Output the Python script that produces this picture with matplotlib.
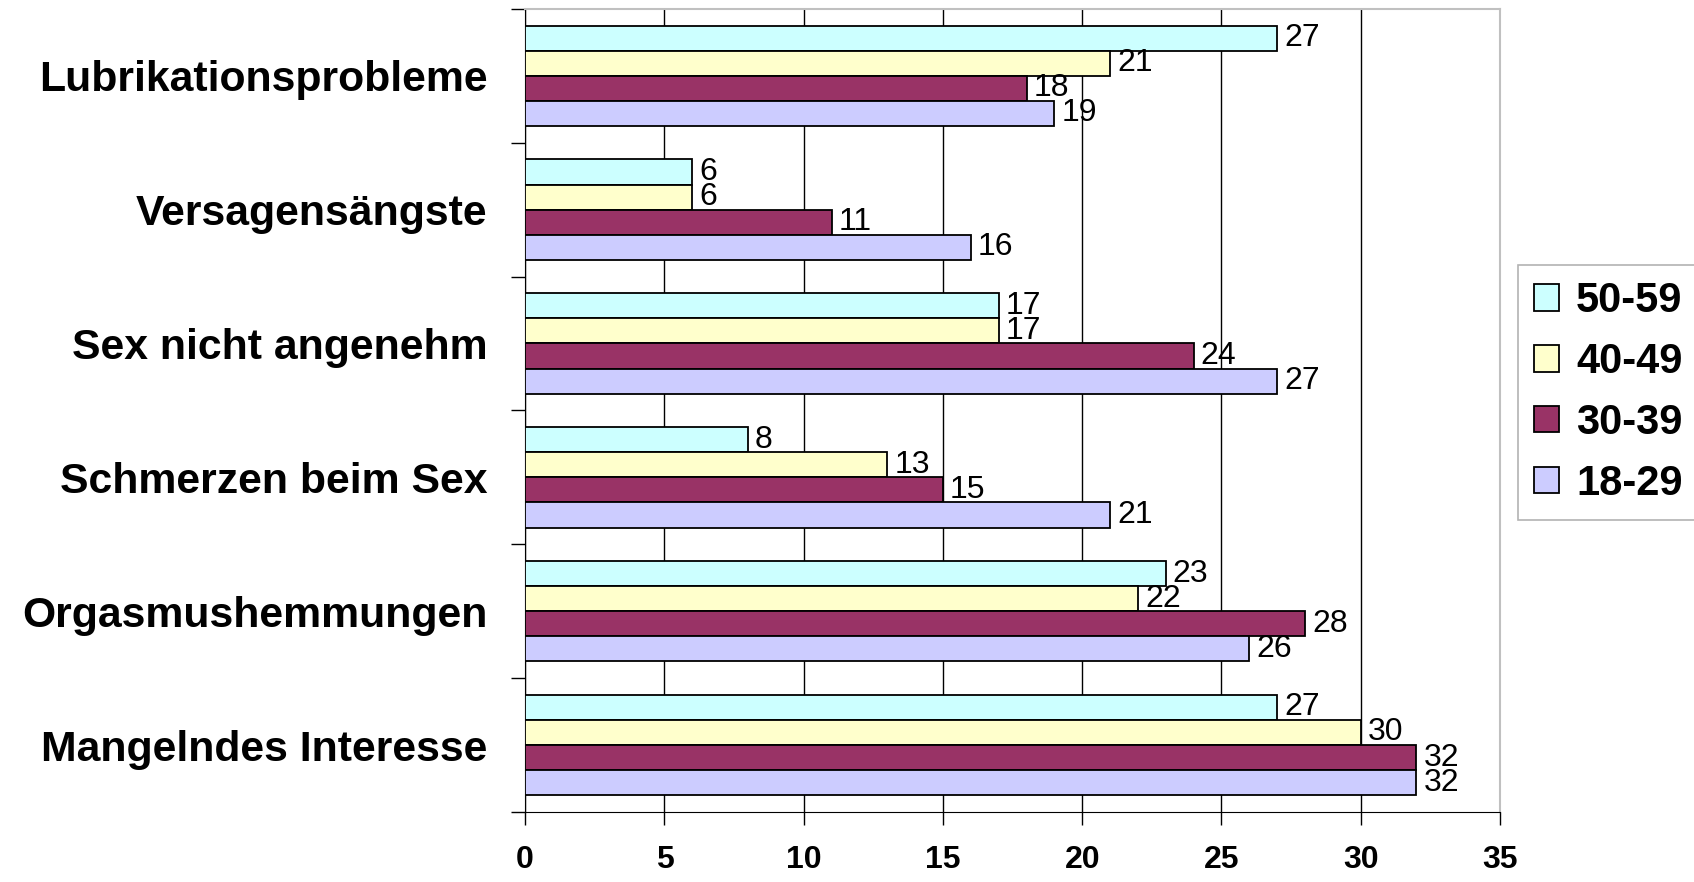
import numpy as np
import matplotlib.pyplot as plt

# categories from top to bottom
categories = ["Lubrikationsprobleme", "Versagensängste", "Sex nicht angenehm",
              "Schmerzen beim Sex", "Orgasmushemmungen", "Mangelndes Interesse"]
groups = ["50-59", "40-49", "30-39", "18-29"]
v_50_59 = [27, 6, 17, 8, 23, 27]
v_40_49 = [21, 6, 17, 13, 22, 30]
v_30_39 = [18, 11, 24, 15, 28, 32]
v_18_29 = [19, 16, 27, 21, 26, 32]
x_ticks = [0, 5, 10, 15, 20, 25, 30, 35]

series = [v_50_59, v_40_49, v_30_39, v_18_29]
colors = ["#CCFFFF", "#FFFFCC", "#993366", "#CCCCFF"]

plt.rcParams['font.family'] = ['Liberation Sans', 'DejaVu Sans']

fig = plt.figure(figsize=(16.94, 8.82), dpi=100)
ax = fig.add_axes([0.310, 0.0794, 0.5755, 0.9106])

n = len(categories)
# top category gets the highest y
ypos = np.arange(n)[::-1]
h = 0.1875

for i, (vals, col, lab) in enumerate(zip(series, colors, groups)):
    y = ypos + (1.5 - i) * h
    ax.barh(y, vals, height=h, color=col, edgecolor="black",
            linewidth=1.3, label=lab, zorder=3)
    for yy, v in zip(y, vals):
        ax.annotate(str(v), (v, yy), xytext=(5, 0), textcoords="offset points",
                    ha="left", va="center", fontsize=23, zorder=4)

ax.set_xlim(0, 35)
ax.set_ylim(-0.5, n - 0.5)

ax.set_xticks(x_ticks)
ax.set_xticklabels([str(t) for t in x_ticks], fontsize=23, fontweight="bold")
ax.tick_params(axis="x", direction="out", length=9, width=1, pad=15)

ax.set_yticks(np.arange(n + 1) - 0.5)
ax.set_yticklabels([])
ax.set_yticks(ypos, minor=True)
ax.set_yticklabels(categories, minor=True, fontsize=30.8, fontweight="bold")
ax.tick_params(axis="y", which="major", direction="out", length=10, width=1)
ax.tick_params(axis="y", which="minor", length=0, pad=27)

ax.grid(axis="x", color="black", linewidth=1, zorder=0)
ax.grid(axis="y", visible=False)
ax.spines["top"].set_color("#C0C0C0")
ax.spines["right"].set_color("#C0C0C0")
ax.spines["top"].set_linewidth(1.5)
ax.spines["right"].set_linewidth(1.5)
ax.spines["left"].set_color("black")
ax.spines["bottom"].set_color("black")

leg = fig.legend(loc="center", bbox_to_anchor=(0.899, 0.425, 0.101, 0.26),
                 prop={"weight": "bold", "size": 30},
                 frameon=True, fancybox=False, edgecolor="#A0A0A0",
                 handlelength=0.6, handleheight=0.6, handletextpad=0.4,
                 labelspacing=0.5, borderpad=0.4, borderaxespad=0)
leg.get_frame().set_linewidth(1.2)

plt.savefig("out.png", dpi=100)
plt.close()
